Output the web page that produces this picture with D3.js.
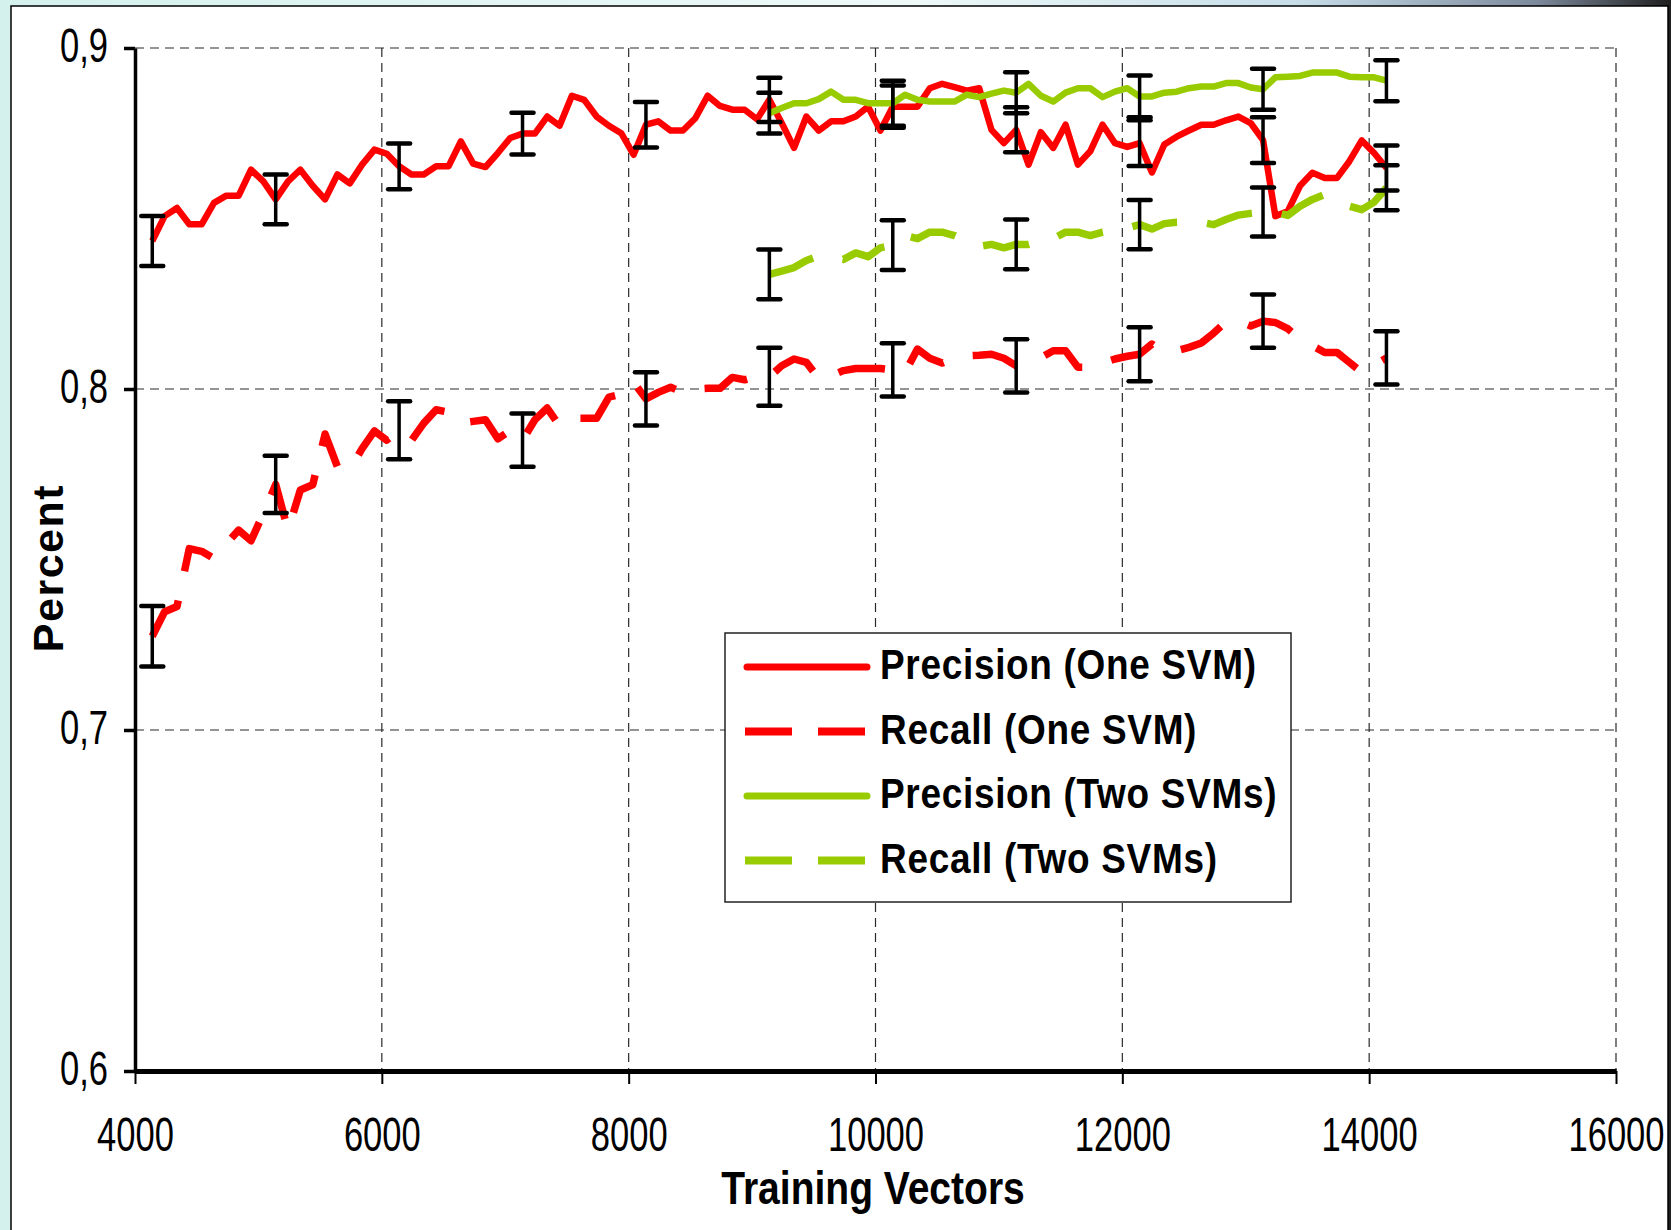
<!DOCTYPE html>
<html>
<head>
<meta charset="utf-8">
<script src="https://cdn.jsdelivr.net/npm/d3@7"></script>
<style>
body { margin: 0; background: #fff; }
svg { display: block; font-family: "Liberation Sans", Arial, sans-serif; }
</style>
</head>
<body>
<script>
// Training set sizes: one measurement every 100 vectors
var firstSize = 4140;
var sizeStep = 100;

// Precision / recall of the single SVM (4140 .. 14140)
var precisionOne = [
  0.8434, 0.8507, 0.8531, 0.8483, 0.8483, 0.8546, 0.8567, 0.8567, 0.8643, 0.8609,
  0.8556, 0.8609, 0.8643, 0.8596, 0.8556, 0.8629, 0.8603, 0.8658, 0.8702, 0.8690,
  0.8653, 0.8629, 0.8629, 0.8653, 0.8653, 0.8726, 0.8661, 0.8651, 0.8692, 0.8736,
  0.8749, 0.8749, 0.8799, 0.8772, 0.8860, 0.8848, 0.8799, 0.8772, 0.8750, 0.8687,
  0.8775, 0.8785, 0.8758, 0.8758, 0.8794, 0.8860, 0.8830, 0.8819, 0.8819, 0.8791,
  0.8848, 0.8780, 0.8707, 0.8799, 0.8758, 0.8785, 0.8785, 0.8799, 0.8828, 0.8758,
  0.8828, 0.8828, 0.8828, 0.8882, 0.8895, 0.8885, 0.8875, 0.8882, 0.8760, 0.8721,
  0.8760, 0.8658, 0.8753, 0.8707, 0.8775, 0.8658, 0.8697, 0.8775, 0.8721, 0.8710,
  0.8721, 0.8635, 0.8717, 0.8740, 0.8758, 0.8775, 0.8775, 0.8788, 0.8799, 0.8780,
  0.8730, 0.8507, 0.8521, 0.8596, 0.8634, 0.8619, 0.8619, 0.8668, 0.8729, 0.8692,
  0.8648
];
var recallOne = [
  0.7275, 0.7347, 0.7362, 0.7532, 0.7524, 0.7503, 0.7547, 0.7586, 0.7555, 0.7635,
  0.7720, 0.7586, 0.7704, 0.7719, 0.7868, 0.7772, 0.7764, 0.7825, 0.7877, 0.7850,
  0.7879, 0.7849, 0.7900, 0.7939, 0.7932, 0.7900, 0.7905, 0.7910, 0.7854, 0.7878,
  0.7850, 0.7910, 0.7944, 0.7892, 0.7914, 0.7914, 0.7914, 0.7976, 0.7985, 0.8020,
  0.7971, 0.7990, 0.8005, 0.7990, 0.8000, 0.8002, 0.8002, 0.8034, 0.8027, 0.8037,
  0.8036, 0.8068, 0.8088, 0.8078, 0.8031, 0.8039, 0.8054, 0.8060, 0.8060, 0.8060,
  0.8056, 0.8049, 0.8117, 0.8090, 0.8076, 0.8090, 0.8097, 0.8099, 0.8102, 0.8090,
  0.8068, 0.8073, 0.8092, 0.8112, 0.8112, 0.8064, 0.8064, 0.8076, 0.8088, 0.8096,
  0.8102, 0.8132, 0.8107, 0.8112, 0.8122, 0.8135, 0.8164, 0.8197, 0.8200, 0.8185,
  0.8199, 0.8195, 0.8177, 0.8146, 0.8127, 0.8107, 0.8107, 0.8078, 0.8049, 0.8070,
  0.8091
];

// Precision / recall of the two SVMs (9140 .. 14140)
var twoStart = 50;
var precisionTwo = [
  0.8809, 0.8824, 0.8838, 0.8838, 0.8850, 0.8872, 0.8848, 0.8848, 0.8838, 0.8838,
  0.8838, 0.8863, 0.8848, 0.8843, 0.8843, 0.8843, 0.8863, 0.8856, 0.8866, 0.8875,
  0.8869, 0.8895, 0.8860, 0.8843, 0.8869, 0.8882, 0.8882, 0.8856, 0.8872, 0.8882,
  0.8858, 0.8858, 0.8869, 0.8872, 0.8882, 0.8887, 0.8887, 0.8897, 0.8897, 0.8884,
  0.8879, 0.8914, 0.8916, 0.8918, 0.8928, 0.8928, 0.8928, 0.8916, 0.8914, 0.8914,
  0.8904
];
var recallTwo = [
  0.8336, 0.8346, 0.8356, 0.8377, 0.8390, 0.8385, 0.8380, 0.8399, 0.8388, 0.8414,
  0.8422, 0.8450, 0.8441, 0.8460, 0.8460, 0.8450, 0.8434, 0.8418, 0.8424, 0.8414,
  0.8424, 0.8424, 0.8434, 0.8441, 0.8460, 0.8460, 0.8450, 0.8460, 0.8467, 0.8472,
  0.8482, 0.8469, 0.8485, 0.8489, 0.8490, 0.8489, 0.8482, 0.8497, 0.8510, 0.8515,
  0.8519, 0.8519, 0.8509, 0.8536, 0.8556, 0.8570, 0.8556, 0.8536, 0.8526, 0.8548,
  0.8590
];

// Half-length of the error bars, one bar every 1000 vectors
var barEvery = 10;
var precisionOneErr = [0.0073, 0.0073, 0.0067, 0.0061, 0.0067, 0.0065, 0.0062, 0.0066, 0.0067, 0.0067, 0.0066];
var recallOneErr = [0.0089, 0.0084, 0.0085, 0.0078, 0.0078, 0.0085, 0.0078, 0.0078, 0.0079, 0.0078, 0.0078];
var precisionTwoErr = [0.0060, 0.0066, 0.0060, 0.0061, 0.0060, 0.0060];
var recallTwoErr = [0.0073, 0.0073, 0.0073, 0.0072, 0.0072, 0.0066];

var xTicks = [4000, 6000, 8000, 10000, 12000, 14000, 16000];
var yTicks = [0.6, 0.7, 0.8, 0.9];
var seriesNames = ["Precision (One SVM)", "Recall (One SVM)", "Precision (Two SVMs)", "Recall (Two SVMs)"];

var red = "#ff0000";
var green = "#99cc00";

var series = [
  { name: seriesNames[0], values: precisionOne, start: 0, err: precisionOneErr, color: red, dashed: false },
  { name: seriesNames[1], values: recallOne, start: 0, err: recallOneErr, color: red, dashed: true },
  { name: seriesNames[2], values: precisionTwo, start: twoStart, err: precisionTwoErr, color: green, dashed: false },
  { name: seriesNames[3], values: recallTwo, start: twoStart, err: recallTwoErr, color: green, dashed: true }
];

var width = 1671;
var height = 1230;

var svg = d3.select("body")
    .append("svg")
    .attr("width", width)
    .attr("height", height);

// Slide background behind the chart frame
var grad = svg.append("defs").append("linearGradient")
    .attr("id", "bg")
    .attr("x1", "0%").attr("x2", "100%");
grad.append("stop").attr("offset", "0%").attr("stop-color", "#d4f1ed");
grad.append("stop").attr("offset", "55%").attr("stop-color", "#eef9f8");
grad.append("stop").attr("offset", "78%").attr("stop-color", "#c6dde8");
grad.append("stop").attr("offset", "92%").attr("stop-color", "#7d8a9c");
grad.append("stop").attr("offset", "100%").attr("stop-color", "#1e1e1e");

svg.append("rect")
    .attr("width", width)
    .attr("height", height)
    .attr("fill", "url(#bg)");

svg.append("rect")
    .attr("x", 11)
    .attr("y", 6)
    .attr("width", 1657)
    .attr("height", 1240)
    .attr("fill", "#fff")
    .attr("stroke", "#000")
    .attr("stroke-width", 1.5);

var x = d3.scaleLinear().domain([4000, 16000]).range([135, 1616]);
var y = d3.scaleLinear().domain([0.6, 0.9]).range([1071, 48]);

// Dashed grid
svg.append("g")
    .selectAll("line")
    .data(xTicks.slice(1))
    .enter()
    .append("line")
    .attr("x1", d => x(d)).attr("x2", d => x(d))
    .attr("y1", y(0.9)).attr("y2", y(0.6))
    .attr("stroke", "#2a2a2a")
    .attr("stroke-width", 1.2)
    .attr("stroke-dasharray", "9,6");

svg.append("g")
    .selectAll("line")
    .data(yTicks.slice(1))
    .enter()
    .append("line")
    .attr("x1", x(4000)).attr("x2", x(16000))
    .attr("y1", d => y(d)).attr("y2", d => y(d))
    .attr("stroke", "#2a2a2a")
    .attr("stroke-width", 1.2)
    .attr("stroke-dasharray", "9,6");

// Axes
var comma = d => d3.format(".1f")(d).replace(".", ",");
var labelScale = 0.72;

var yAxis = svg.append("g")
    .attr("transform", "translate(" + x(4000) + ",0)")
    .call(d3.axisLeft(y).tickValues(yTicks).tickSize(11).tickSizeOuter(0).tickFormat(comma));
yAxis.select(".domain").attr("stroke-width", 3.5);
yAxis.selectAll(".tick line").attr("stroke-width", 3.5);
yAxis.selectAll(".tick text")
    .attr("font-family", "Liberation Sans, Arial, sans-serif")
    .attr("font-size", 48)
    .attr("fill", "#000")
    .attr("x", -27 / labelScale)
    .attr("y", 13)
    .attr("dy", null)
    .attr("transform", "scale(" + labelScale + ",1)");

var xAxis = svg.append("g")
    .attr("transform", "translate(0," + y(0.6) + ")")
    .call(d3.axisBottom(x).tickValues(xTicks).tickSize(13).tickSizeOuter(0).tickFormat(d3.format("d")));
xAxis.select(".domain").attr("stroke-width", 5);
xAxis.selectAll(".tick line").attr("stroke-width", 2);
xAxis.selectAll(".tick text")
    .attr("font-family", "Liberation Sans, Arial, sans-serif")
    .attr("font-size", 48)
    .attr("fill", "#000")
    .attr("y", 80)
    .attr("dy", null)
    .attr("transform", "scale(" + labelScale + ",1)");

// Axis titles
svg.append("text")
    .attr("transform", "translate(873,1204) scale(0.83,1)")
    .attr("text-anchor", "middle")
    .attr("font-weight", "bold")
    .attr("font-size", 47)
    .text("Training Vectors");

svg.append("text")
    .attr("transform", "translate(63,568) rotate(-90)")
    .attr("text-anchor", "middle")
    .attr("font-weight", "bold")
    .attr("font-size", 43)
    .attr("letter-spacing", 1.5)
    .text("Percent");

// Lines
function points(s) {
    return s.values.map(function (v, i) {
        return { size: firstSize + (s.start + i) * sizeStep, value: v };
    });
}

var line = d3.line()
    .x(d => x(d.size))
    .y(d => y(d.value));

series.forEach(function (s) {
    svg.append("path")
        .datum(points(s))
        .attr("d", line)
        .attr("fill", "none")
        .attr("stroke", s.color)
        .attr("stroke-width", s.dashed ? 7.5 : 6.5)
        .attr("stroke-linejoin", "round")
        .attr("stroke-dasharray", s.dashed ? "47,30" : null);
});

// Error bars
series.forEach(function (s) {
    var pts = points(s);
    var bars = s.err.map(function (e, i) {
        var p = pts[i * barEvery];
        return { size: p.size, lo: p.value - e, hi: p.value + e };
    });
    var g = svg.append("g")
        .attr("stroke", "#000")
        .attr("stroke-linecap", "round");
    g.selectAll(".stem")
        .data(bars)
        .enter()
        .append("line")
        .attr("x1", d => x(d.size)).attr("x2", d => x(d.size))
        .attr("y1", d => y(d.lo)).attr("y2", d => y(d.hi))
        .attr("stroke-width", 3.5);
    g.selectAll(".cap")
        .data(bars.flatMap(d => [{ size: d.size, v: d.lo }, { size: d.size, v: d.hi }]))
        .enter()
        .append("line")
        .attr("x1", d => x(d.size) - 11).attr("x2", d => x(d.size) + 11)
        .attr("y1", d => y(d.v)).attr("y2", d => y(d.v))
        .attr("stroke-width", 4.5);
});

// Legend
var legend = svg.append("g");
legend.append("rect")
    .attr("x", 725)
    .attr("y", 633)
    .attr("width", 566)
    .attr("height", 269)
    .attr("fill", "#fff")
    .attr("stroke", "#222")
    .attr("stroke-width", 1.5);

var rows = legend.selectAll(".row")
    .data(series)
    .enter()
    .append("g")
    .attr("transform", (d, i) => "translate(0," + (667 + i * 64.5) + ")");

rows.append("line")
    .attr("x1", d => d.dashed ? 745 : 747)
    .attr("x2", d => d.dashed ? 870 : 867)
    .attr("stroke", d => d.color)
    .attr("stroke-width", d => d.dashed ? 8 : 7)
    .attr("stroke-linecap", d => d.dashed ? "butt" : "round")
    .attr("stroke-dasharray", d => d.dashed ? "47,26" : null);

rows.append("text")
    .attr("transform", "translate(880,12) scale(0.86,1)")
    .attr("font-weight", "bold")
    .attr("font-size", 43)
    .attr("letter-spacing", 0.8)
    .text(d => d.name);
</script>
</body>
</html>
